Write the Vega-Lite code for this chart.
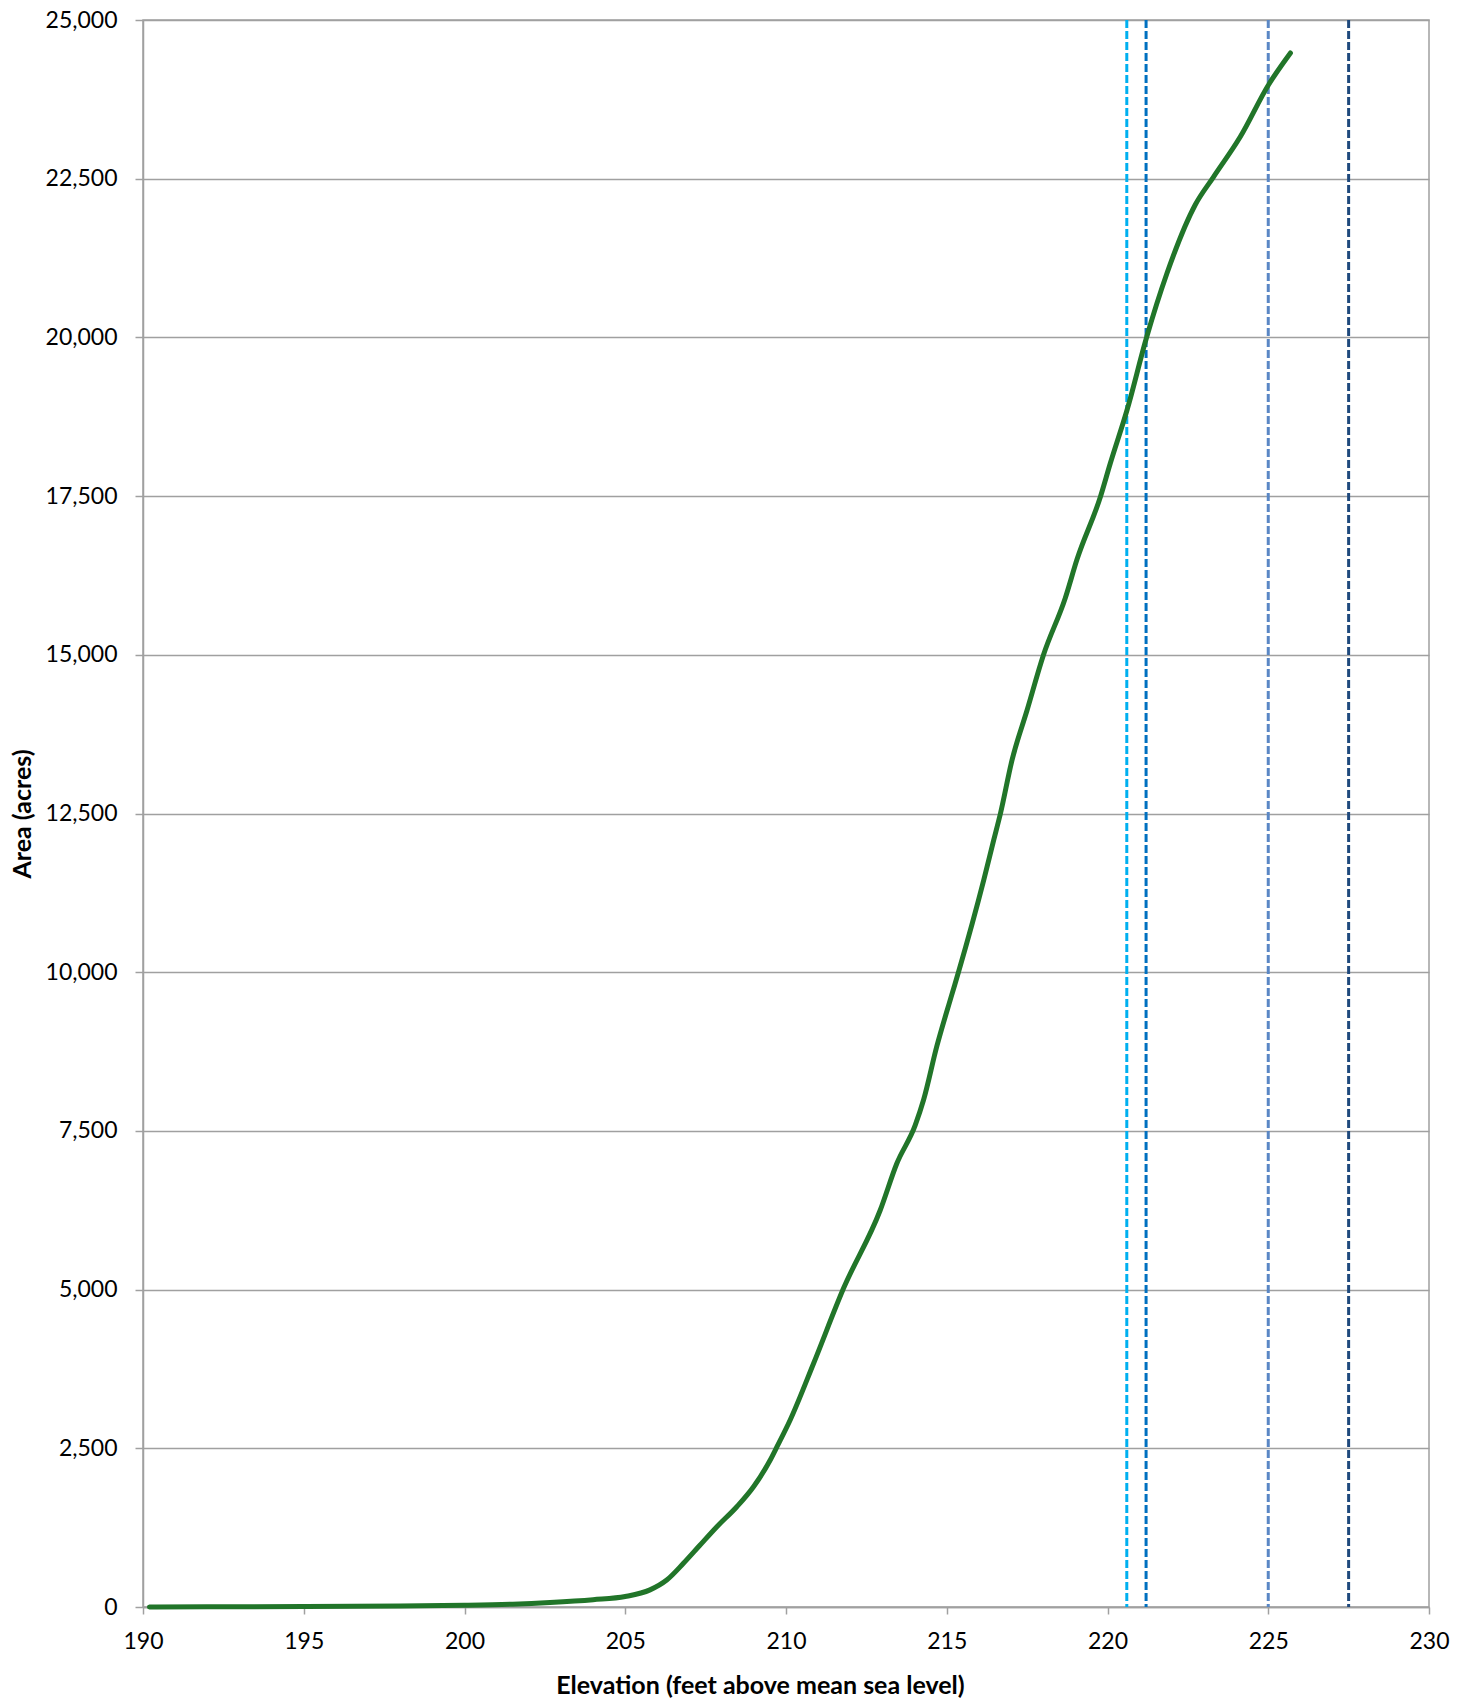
{
  "$schema": "https://vega.github.io/schema/vega-lite/v6.json",
  "width": 1286,
  "height": 1587,
  "autosize": "none",
  "padding": {"left": 143, "top": 20, "right": 38, "bottom": 94},
  "background": "white",
  "config": {
    "view": {"stroke": "#a0a0a0", "strokeWidth": 1.5},
    "font": "Lato"
  },
  "datasets": {
    "curve": [
      {"elevation": 190.2, "area": 0},
      {"elevation": 192, "area": 2},
      {"elevation": 195, "area": 6},
      {"elevation": 198, "area": 15},
      {"elevation": 200, "area": 27},
      {"elevation": 201.5, "area": 45},
      {"elevation": 202.66, "area": 71},
      {"elevation": 204, "area": 115},
      {"elevation": 205, "area": 165},
      {"elevation": 205.77, "area": 270},
      {"elevation": 206.29, "area": 425},
      {"elevation": 206.81, "area": 688},
      {"elevation": 207.3, "area": 960},
      {"elevation": 207.85, "area": 1265},
      {"elevation": 208.47, "area": 1580},
      {"elevation": 208.99, "area": 1895},
      {"elevation": 209.51, "area": 2316},
      {"elevation": 209.72, "area": 2525},
      {"elevation": 210.13, "area": 2946},
      {"elevation": 210.86, "area": 3840},
      {"elevation": 211.79, "area": 5020},
      {"elevation": 212.93, "area": 6250},
      {"elevation": 213.45, "area": 6990},
      {"elevation": 214.02, "area": 7590},
      {"elevation": 214.28, "area": 7990},
      {"elevation": 214.69, "area": 8830},
      {"elevation": 215.16, "area": 9650},
      {"elevation": 215.37, "area": 10010},
      {"elevation": 216.15, "area": 11450},
      {"elevation": 216.46, "area": 12080},
      {"elevation": 216.67, "area": 12500},
      {"elevation": 217.03, "area": 13340},
      {"elevation": 217.5, "area": 14130},
      {"elevation": 218.01, "area": 15000},
      {"elevation": 218.69, "area": 15900},
      {"elevation": 219.05, "area": 16500},
      {"elevation": 219.78, "area": 17490},
      {"elevation": 220.09, "area": 18020},
      {"elevation": 220.61, "area": 18860},
      {"elevation": 221.21, "area": 19990},
      {"elevation": 221.85, "area": 21010},
      {"elevation": 222.73, "area": 22090},
      {"elevation": 223.3, "area": 22530},
      {"elevation": 224.13, "area": 23160},
      {"elevation": 225.01, "area": 23980},
      {"elevation": 225.69, "area": 24480}
    ],
    "levels": [
      {"level": "a", "elevation": 220.6},
      {"level": "b", "elevation": 221.2},
      {"level": "c", "elevation": 225.0},
      {"level": "d", "elevation": 227.5}
    ]
  },
  "layer": [
    {
      "data": {"name": "levels"},
      "mark": {"type": "rule", "strokeWidth": 3, "strokeDash": [8, 3]},
      "encoding": {
        "x": {"field": "elevation", "type": "quantitative", "scale": {"domain": [190, 230]}},
        "color": {
          "field": "level",
          "type": "nominal",
          "scale": {"domain": ["a", "b", "c", "d"], "range": ["#00b0f0", "#0070c0", "#5a87c5", "#1f497d"]},
          "legend": null
        }
      }
    },
    {
      "data": {"name": "curve"},
      "mark": {"type": "line", "color": "#217529", "strokeWidth": 5, "strokeCap": "round", "interpolate": "monotone"},
      "encoding": {
        "x": {
          "field": "elevation",
          "type": "quantitative",
          "scale": {"domain": [190, 230], "nice": false, "zero": false},
          "axis": {
            "title": "Elevation (feet above mean sea level)",
            "values": [190, 195, 200, 205, 210, 215, 220, 225, 230],
            "format": "d",
            "grid": false,
            "domainColor": "#a0a0a0",
            "domainWidth": 1.5,
            "tickColor": "#a0a0a0",
            "tickWidth": 1.5,
            "tickSize": 7,
            "labelFont": "Lato",
            "labelFontSize": 23,
            "labelColor": "#000000",
            "labelPadding": 16,
            "labelFlush": false,
            "labelOverlap": false,
            "labelBound": false,
            "titleFont": "Lato",
            "titleFontSize": 25,
            "titleFontWeight": "bold",
            "titleColor": "#000000",
            "titlePadding": 20,
            "titleX": 617
          }
        },
        "y": {
          "field": "area",
          "type": "quantitative",
          "scale": {"domain": [0, 25000], "nice": false},
          "axis": {
            "title": "Area (acres)",
            "values": [0, 2500, 5000, 7500, 10000, 12500, 15000, 17500, 20000, 22500, 25000],
            "format": ",d",
            "grid": true,
            "gridColor": "#a0a0a0",
            "gridWidth": 1.5,
            "domainColor": "#a0a0a0",
            "domainWidth": 1.5,
            "tickColor": "#a0a0a0",
            "tickWidth": 1.5,
            "tickSize": 8,
            "labelFont": "Lato",
            "labelFontSize": 23,
            "labelColor": "#000000",
            "labelPadding": 18,
            "labelOverlap": false,
            "labelFlush": false,
            "titleFont": "Lato",
            "titleFontSize": 25,
            "titleFontWeight": "bold",
            "titleColor": "#000000",
            "titlePadding": 10
          }
        }
      }
    }
  ]
}
